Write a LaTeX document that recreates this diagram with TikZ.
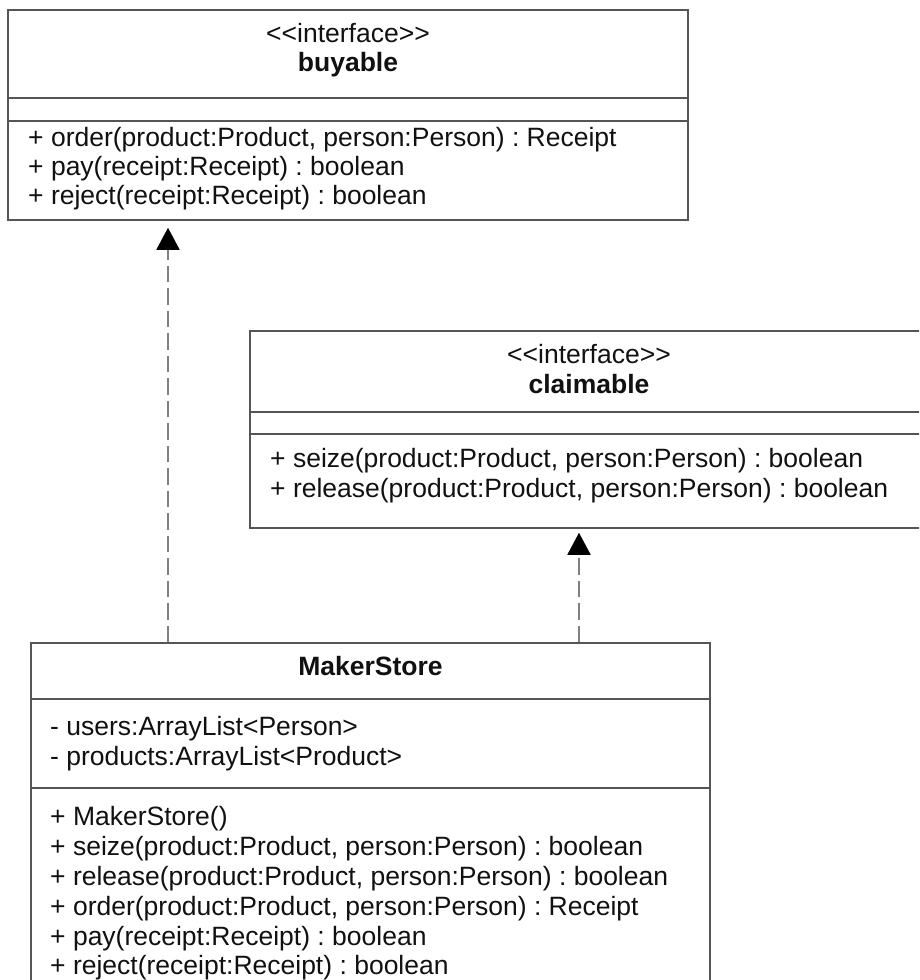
\documentclass[tikz,border=0pt]{standalone}
\usepackage{fontspec}
\setmainfont{Liberation Sans}[Ligatures=TeXOff]
\usetikzlibrary{arrows.meta}
\definecolor{boxgray}{HTML}{555555}
\definecolor{linegray}{HTML}{808080}
\definecolor{txtcol}{HTML}{111111}
\frenchspacing
\begin{document}
\begin{tikzpicture}[x=1pt,y=-1pt,
  box/.style={draw=boxgray, line width=1.5pt, inner sep=0pt, rectangle},
  sep/.style={draw=boxgray, line width=1.5pt},
  txt/.style={anchor=base west, inner sep=0pt, text=txtcol, font=\fontsize{26.5}{30}\selectfont},
  ctxt/.style={anchor=base, inner sep=0pt, text=txtcol, font=\fontsize{26.5}{30}\selectfont},
  btxt/.style={ctxt, font=\fontsize{26.5}{30}\selectfont\bfseries},
  impl/.style={draw=linegray, line width=1.8pt, dash pattern=on 16.5pt off 6pt,
    -{Triangle[length=22pt,width=23pt,fill=black,color=black]}}]
\useasboundingbox (0,0) rectangle (919,980);
\clip (0,0) rectangle (919,980);
\fill[white] (0,0) rectangle (919,980);

% buyable
\node[box, minimum width=680pt, minimum height=210pt] (buyable) at (348,115) {};
\draw[sep] (buyable.west |- 0,98) -- (buyable.east |- 0,98);
\draw[sep] (buyable.west |- 0,121) -- (buyable.east |- 0,121);
\node[ctxt] (bst) at (348,42) {<<interface>>};
\node[btxt] (bname) at (348,71) {buyable};
\node[txt] (bm1) at (28,146) {+ order(product:Product, person:Person) : Receipt};
\node[txt] (bm2) at (28,175) {+ pay(receipt:Receipt) : boolean};
\node[txt] (bm3) at (28,204) {+ reject(receipt:Receipt) : boolean};

% claimable
\node[box, minimum width=678pt, minimum height=197pt] (claimable) at (589,429.5) {};
\draw[sep] (claimable.west |- 0,412) -- (claimable.east |- 0,412);
\draw[sep] (claimable.west |- 0,434) -- (claimable.east |- 0,434);
\node[ctxt] (cst) at (589,363) {<<interface>>};
\node[btxt] (cname) at (589,393) {claimable};
\node[txt] (cm1) at (270,467) {+ seize(product:Product, person:Person) : boolean};
\node[txt] (cm2) at (270,497) {+ release(product:Product, person:Person) : boolean};

% MakerStore
\node[box, minimum width=679pt, minimum height=367pt] (maker) at (370.5,826.5) {};
\draw[sep] (maker.west |- 0,699) -- (maker.east |- 0,699);
\draw[sep] (maker.west |- 0,788) -- (maker.east |- 0,788);
\node[btxt] (mname) at (370.5,675) {MakerStore};
\node[txt] (ma1) at (50,735) {- users:ArrayList<Person>};
\node[txt] (ma2) at (50,765) {- products:ArrayList<Product>};
\node[txt] (mm1) at (50,825) {+ MakerStore()};
\node[txt] (mm2) at (50,855) {+ seize(product:Product, person:Person) : boolean};
\node[txt] (mm3) at (50,885) {+ release(product:Product, person:Person) : boolean};
\node[txt] (mm4) at (50,915) {+ order(product:Product, person:Person) : Receipt};
\node[txt] (mm5) at (50,945) {+ pay(receipt:Receipt) : boolean};
\node[txt] (mm6) at (50,974) {+ reject(receipt:Receipt) : boolean};

% connectors
\coordinate (lx) at (168,0);
\coordinate (rx) at (579,0);
\draw[impl, shorten >=7pt] (maker.north -| lx) -- (buyable.south -| lx);
\draw[impl, shorten >=4pt] (maker.north -| rx) -- (claimable.south -| rx);
\end{tikzpicture}
\end{document}
